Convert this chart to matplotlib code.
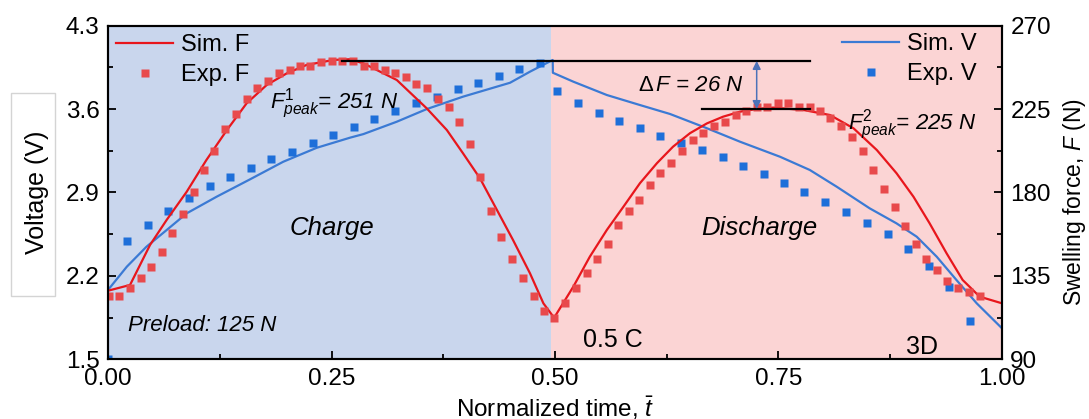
import numpy as np
import matplotlib.pyplot as plt
from matplotlib.patches import Rectangle

plt.rcParams['font.family'] = ['Liberation Sans', 'DejaVu Sans']
plt.rcParams['mathtext.fontset'] = 'custom'
plt.rcParams['mathtext.rm'] = 'Liberation Sans'
plt.rcParams['mathtext.it'] = 'Liberation Sans:italic'
plt.rcParams['font.size'] = 16

# Experimental swelling force (N) vs normalized time
exp_f_t = [0.0015, 0.0127, 0.0246, 0.0366, 0.048, 0.060, 0.072, 0.084, 0.096, 0.107,
           0.119, 0.131, 0.143, 0.155, 0.167, 0.179, 0.191, 0.203, 0.215, 0.226,
           0.238, 0.250, 0.262, 0.274, 0.286, 0.2975, 0.3095, 0.321, 0.333, 0.345,
           0.357, 0.369, 0.381, 0.3926, 0.4046, 0.4165, 0.428, 0.440, 0.452, 0.464,
           0.476, 0.488, 0.499, 0.511, 0.523, 0.5355, 0.547, 0.559, 0.571, 0.583,
           0.594, 0.606, 0.618, 0.630, 0.642, 0.654, 0.666, 0.678, 0.690, 0.702,
           0.714, 0.726, 0.7375, 0.749, 0.761, 0.773, 0.785, 0.796, 0.808, 0.820,
           0.832, 0.844, 0.856, 0.868, 0.880, 0.8915, 0.9035, 0.915, 0.927, 0.939,
           0.951, 0.963, 0.975]
exp_f = [124.2, 124.2, 128.3, 134.0, 140.0, 148.1, 158.0, 168.2, 180.1, 192.1,
         202.4, 214.1, 222.4, 230.3, 236.2, 240.3, 244.3, 246.1, 248.3, 248.3,
         250.3, 250.7, 250.7, 250.7, 248.3, 248.3, 246.1, 244.3, 242.5, 238.4,
         236.2, 230.3, 226.3, 218.2, 206.0, 188.2, 170.2, 156.2, 144.1, 134.0,
         124.2, 116.2, 112.4, 120.2, 128.3, 136.4, 144.1, 152.2, 162.3, 170.2,
         176.0, 184.1, 190.4, 196.1, 202.4, 208.3, 212.3, 215.9, 218.2, 221.8,
         224.1, 226.3, 226.3, 228.1, 228.1, 226.3, 226.3, 224.1, 220.0, 216.0,
         210.1, 202.4, 192.1, 182.1, 172.2, 162.1, 152.2, 144.1, 138.2, 132.3,
         128.3, 126.2, 124.2]

# Experimental voltage (V)
exp_v_t = [0.0, 0.0216, 0.0444, 0.0675, 0.0906, 0.1137, 0.1368, 0.160, 0.1827, 0.2058,
           0.229, 0.252, 0.275, 0.298, 0.321, 0.3445, 0.3677, 0.391, 0.414, 0.437,
           0.460, 0.483, 0.5026, 0.526, 0.549, 0.572, 0.595, 0.618, 0.641, 0.6644,
           0.6876, 0.7107, 0.7334, 0.756, 0.779, 0.802, 0.8255, 0.849, 0.872, 0.895,
           0.918, 0.941, 0.964]
exp_v = [1.50, 2.495, 2.627, 2.747, 2.851, 2.955, 3.033, 3.108, 3.179, 3.242,
         3.313, 3.383, 3.452, 3.517, 3.584, 3.649, 3.704, 3.766, 3.821, 3.878,
         3.934, 3.984, 3.752, 3.649, 3.570, 3.500, 3.439, 3.377, 3.318, 3.257,
         3.195, 3.125, 3.055, 2.982, 2.907, 2.823, 2.734, 2.647, 2.549, 2.426,
         2.283, 2.104, 1.821]

# Simulated swelling force
sim_f_t = [0.0, 0.0246, 0.047, 0.0656, 0.088, 0.110, 0.133, 0.155, 0.1775, 0.200,
           0.222, 0.252, 0.270, 0.2856, 0.323, 0.3565, 0.379, 0.397, 0.416, 0.435,
           0.453, 0.472, 0.487, 0.499, 0.5205, 0.539, 0.558, 0.5765, 0.595, 0.614,
           0.632, 0.651, 0.670, 0.688, 0.707, 0.726, 0.744, 0.778, 0.8076, 0.834,
           0.860, 0.882, 0.901, 0.919, 0.938, 0.956, 0.975, 1.0]
sim_f = [127.0, 130.1, 151.7, 165.2, 180.4, 197.5, 213.7, 228.1, 238.0, 244.3,
         248.8, 251.5, 251.9, 249.7, 240.7, 225.4, 213.7, 201.2, 187.7, 170.6,
         154.4, 136.4, 120.2, 112.4, 129.2, 145.4, 159.8, 172.3, 185.0, 195.8,
         204.7, 212.0, 217.3, 220.9, 223.6, 225.1, 225.8, 224.5, 221.8, 214.6,
         202.9, 190.4, 177.7, 163.4, 147.2, 132.8, 123.8, 120.2]

# Simulated voltage
sim_v_t = [0.0, 0.021, 0.043, 0.0656, 0.088, 0.1216, 0.159, 0.196, 0.2334, 0.2707,
           0.2856, 0.323, 0.3565, 0.397, 0.4497, 0.472, 0.4974, 0.4976, 0.5205, 0.558,
           0.595, 0.6286, 0.670, 0.707, 0.7517, 0.785, 0.815, 0.852, 0.882, 0.9046,
           0.927, 0.949, 0.9717, 1.0]
sim_v = [2.082, 2.277, 2.445, 2.585, 2.725, 2.865, 3.011, 3.158, 3.275, 3.36,
         3.39, 3.494, 3.60, 3.704, 3.821, 3.914, 4.012, 3.905, 3.830, 3.718,
         3.634, 3.559, 3.439, 3.326, 3.200, 3.089, 2.949, 2.767, 2.641, 2.529,
         2.361, 2.166, 1.970, 1.760]

f_peak1 = 251
f_peak2 = 225
delta_f = f_peak1 - f_peak2

red = '#e8161c'
red_pts = '#e84a4c'
blue = '#3b7ad4'
blue_pts = '#1e6fd9'

fig = plt.figure(figsize=(10.89, 4.19), dpi=100)
ax = fig.add_axes([0.0992, 0.1425, 0.8209, 0.7962])
ax2 = ax.twinx()

ax.axvspan(0.0, 0.495, color='#c9d6ed', zorder=0, lw=0)
ax.axvspan(0.495, 1.0, color='#fbd4d4', zorder=0, lw=0)

sim_v_line, = ax.plot(sim_v_t, sim_v, color=blue, lw=1.6, label='Sim. V')
exp_v_pts, = ax.plot(exp_v_t, exp_v, 's', color=blue_pts, ms=6, mec='none', label='Exp. V')

sim_f_line, = ax2.plot(sim_f_t, sim_f, color=red, lw=1.6, label='Sim. F')
exp_f_pts, = ax2.plot(exp_f_t, exp_f, 's', color=red_pts, ms=6, mec='none', label='Exp. F')

ax.set_xlim(0, 1)
ax.set_ylim(1.5, 4.3)
ax2.set_ylim(90, 270)

ax.set_xticks([0, 0.25, 0.5, 0.75, 1.0])
ax.set_xticklabels(['0.00', '0.25', '0.50', '0.75', '1.00'])
ax.set_xticks([0.125, 0.375, 0.625, 0.875], minor=True)
ax.set_yticks([1.5, 2.2, 2.9, 3.6, 4.3])
ax.set_yticks([1.85, 2.55, 3.25, 3.95], minor=True)
ax2.set_yticks([90, 135, 180, 225, 270])
ax2.set_yticks([112.5, 157.5, 202.5, 247.5], minor=True)

for a in (ax, ax2):
    a.tick_params(which='major', direction='in', length=6, width=1.3, labelsize=17.5, pad=6)
    a.tick_params(which='minor', direction='in', length=3.5, width=1.3)
    for s in a.spines.values():
        s.set_linewidth(1.5)
ax.tick_params(axis='x', pad=6)

ax.set_ylabel('Voltage (V)', fontsize=18)
ax.yaxis.set_label_coords(-0.066, 0.5)
ax2.set_ylabel('Swelling force, $F$ (N)', fontsize=16.5)
ax2.yaxis.set_label_coords(1.066, 0.4715)
ax.set_xlabel(r'Normalized time, $\bar{t}$', fontsize=17.5)
ax.xaxis.set_label_coords(0.5, -0.105)

# peak force guide lines and difference arrow
ax2.plot([0.262, 0.785], [f_peak1, f_peak1], color='black', lw=1.6)
ax2.plot([0.664, 0.785], [f_peak2, f_peak2], color='black', lw=1.6)
ax2.annotate('', xy=(0.7256, f_peak2), xytext=(0.7256, f_peak1),
             arrowprops=dict(arrowstyle='<|-|>', color='#4c72b8', lw=1.1,
                             mutation_scale=12, shrinkA=0, shrinkB=0))
ax2.text(0.711, 237.5, r'$\Delta\,F$ = %d N' % delta_f, style='italic', fontsize=16,
         ha='right', va='center')
ax2.text(0.181, 228, r'$F^{1}_{peak}$= %d N' % f_peak1, style='italic', fontsize=16,
         ha='left', va='center')
ax2.text(0.828, 216.5, r'$F^{2}_{peak}$= %d N' % f_peak2, style='italic', fontsize=16,
         ha='left', va='center')

ax.text(0.25, 2.6, 'Charge', style='italic', fontsize=18.5, ha='center', va='center')
ax.text(0.728, 2.6, 'Discharge', style='italic', fontsize=18.5, ha='center', va='center')
ax.text(0.022, 1.78, 'Preload: 125 N', style='italic', fontsize=16, ha='left', va='center')
ax.text(0.531, 1.66, '0.5 C', fontsize=18, ha='left', va='center')
ax.text(0.91, 1.6, '3D', fontsize=18, ha='center', va='center')

leg_kw = dict(frameon=False, fontsize=17, handlelength=2.4, handletextpad=0.35,
              labelspacing=0.35, borderpad=0.05)
leg1 = ax2.legend(handles=[sim_f_line, exp_f_pts], loc='upper left',
                  borderaxespad=0.3, **leg_kw)
ax2.add_artist(leg1)
ax2.legend(handles=[sim_v_line, exp_v_pts], loc='upper right',
           bbox_to_anchor=(1 - 24 / 894, 1 - 6 / 333.6), borderaxespad=0, **leg_kw)

# thin frame around the voltage label
fig.patches.append(Rectangle((11 / 1089, 1 - 296 / 419), 44 / 1089, 203 / 419,
                             transform=fig.transFigure, fill=False,
                             edgecolor='#d4d4d4', lw=1.0))

fig.savefig('out.png', dpi=100)
